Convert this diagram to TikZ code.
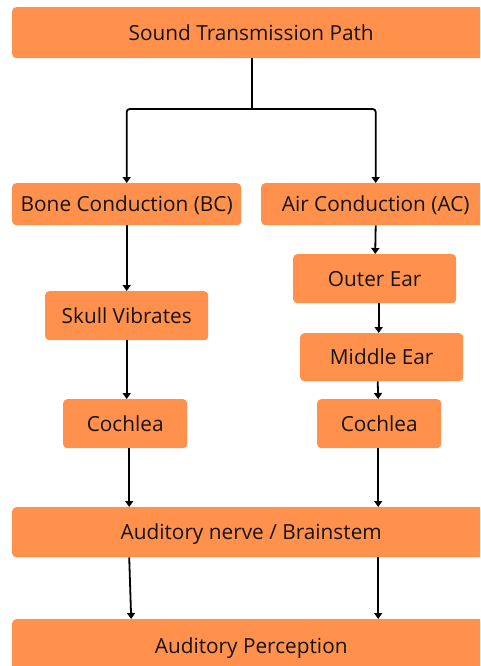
\documentclass[tikz,border=0pt]{standalone}
\usepackage{fontspec}
\setmainfont{Open Sans}
\usetikzlibrary{arrows.meta}
\definecolor{boxorange}{HTML}{FF914D}
\definecolor{txt}{HTML}{141414}
\tikzset{
  box/.style={fill=boxorange, rounded corners=4pt, inner sep=0pt, text=txt,
    font=\fontsize{20.8}{24}\selectfont, anchor=north west,
    text height=15pt, text depth=0pt},
  arr/.style={line width=1.8pt, -{Triangle[width=8pt,length=6pt]}, black},
  conn/.style={line width=1.8pt, black, rounded corners=3pt}
}
\begin{document}
\begin{tikzpicture}[x=1pt,y=-1pt]
\useasboundingbox (0,0) rectangle (480,666);
\clip (0,0) rectangle (480,666);
\fill[white] (0,0) rectangle (480,666);
% boxes: positions from top-left
\node[box, minimum width=478pt, minimum height=51pt] (top) at (12,7) {Sound Transmission Path};
\node[box, minimum width=229pt, minimum height=42pt] (bc) at (12,183) {Bone Conduction (BC)};
\node[box, minimum width=229pt, minimum height=42pt] (ac) at (261,183) {Air Conduction (AC)};
\node[box, minimum width=163pt, minimum height=49pt] (skull) at (45,291) {Skull Vibrates};
\node[box, minimum width=163pt, minimum height=49pt] (outer) at (293,254) {Outer Ear};
\node[box, minimum width=163pt, minimum height=48pt] (middle) at (300,333) {Middle Ear};
\node[box, minimum width=124pt, minimum height=49pt] (cochL) at (63,399) {Cochlea};
\node[box, minimum width=124pt, minimum height=49pt] (cochR) at (317,399) {Cochlea};
\node[box, minimum width=478pt, minimum height=50pt] (nerve) at (12,507) {Auditory nerve / Brainstem};
\node[box, minimum width=478pt, minimum height=54pt] (perc) at (12,619) {Auditory Perception};
% split
\coordinate (split) at (252,109);
\draw[conn] (top.south -| split) -- (split);
\draw[conn,-{Triangle[width=8pt,length=6pt]}] (split) -| (bc.north);
\draw[conn,-{Triangle[width=8pt,length=6pt]}] (split) -| (ac.north);
% left chain
\draw[arr] (bc.south) -- (skull.north);
\draw[arr] (skull.south) -- ([xshift=1.5pt]cochL.north);
\draw[arr] ([xshift=4pt]cochL.south) -- ([xshift=-122pt]nerve.south |- nerve.north);
% right chain
\draw[arr] (ac.south) -- ([xshift=0.5pt]outer.north);
\draw[arr] ([xshift=4pt]outer.south) -- ([xshift=-3pt]middle.north);
\draw[arr] ([xshift=-4pt]middle.south) -- ([xshift=-1pt]cochR.north);
\draw[arr] ([xshift=-1pt]cochR.south) -- ([xshift=127pt]nerve.north);
% bottom
\draw[arr] ([xshift=-122pt]nerve.south) -- ([xshift=-120pt]perc.north);
\draw[arr] ([xshift=127pt]nerve.south) -- ([xshift=127pt]perc.north);
\end{tikzpicture}
\end{document}
